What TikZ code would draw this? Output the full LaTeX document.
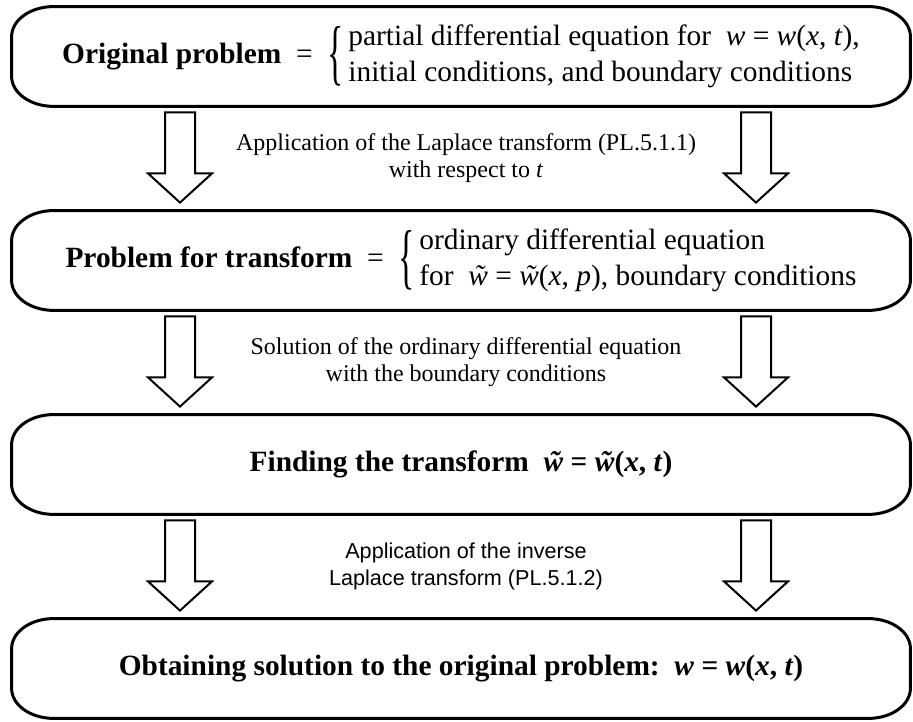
\documentclass[tikz,border=0pt]{standalone}
\usepackage{graphicx}
\usepackage{fontspec}
\setmainfont{Liberation Serif}
\newfontfamily\lblsans{Liberation Sans}
\usetikzlibrary{calc}

% w with a tilde on top (kept at the letter's own width)
\newcommand\tilw{\leavevmode\ooalign{\textit{w}\cr\hidewidth\kern0.12em\textit{\char"02DC}\hidewidth\cr}}
% tall brace in front of a two-line group
\newcommand\twolines[1]{$\vcenter{\hbox{\scalebox{1.15}[2.45]{\{}}}\,%
  \vcenter{\hbox{\begin{tabular}{@{}l@{}}#1\end{tabular}}}$}

\begin{document}
\begin{tikzpicture}[
    x=0.5pt, y=0.5pt,
    box/.style={minimum width=449pt, minimum height=49.5pt, inner sep=0pt,
                align=center, font=\fontsize{14.7}{18}\selectfont},
    lbl/.style={align=center, font=\fontsize{12}{13.5}\selectfont},
    blk/.style={draw, line width=1pt, fill=white, line join=miter},
    outl/.style={line width=1.5pt},
  ]

  \useasboundingbox (0,0) rectangle (913,721);

  \def\rx{21pt}
  \def\ry{15pt}

  % -- Boxes
  \node[box] (b1) at (461,664.5)
    {\textbf{Original problem}\enskip=\enskip\twolines{%
     partial differential equation for\enskip\textit{w} = \textit{w}(\textit{x}, \textit{t}),\\
     initial conditions, and boundary conditions}};
  \node[box] (b2) at (461,460.5)
    {\textbf{Problem for transform}\enskip=\enskip\twolines{%
     ordinary differential equation\\
     for\enskip\tilw{} = \tilw(\textit{x}, \textit{p}), boundary conditions}};
  \node[box] (b3) at (461,256.5)
    {\textbf{Finding the transform\enskip\tilw{} = \tilw(\textit{x}, \textit{t})}};
  \node[box] (b4) at (461,52.5)
    {\textbf{Obtaining solution to the original problem:\enskip\textit{w} = \textit{w}(\textit{x}, \textit{t})}};

  % -- Box outlines (oval corners)
  \foreach \n in {b1,b2,b3,b4}
    \draw[outl] ([xshift=\rx]\n.north west) -- ([xshift=-\rx]\n.north east)
      arc[start angle=90, end angle=0, x radius=\rx, y radius=\ry]
      -- ([yshift=\ry]\n.south east)
      arc[start angle=0, end angle=-90, x radius=\rx, y radius=\ry]
      -- ([xshift=\rx]\n.south west)
      arc[start angle=270, end angle=180, x radius=\rx, y radius=\ry]
      -- ([yshift=-\ry]\n.north west)
      arc[start angle=180, end angle=90, x radius=\rx, y radius=\ry] -- cycle;

  % -- Step labels
  \node[lbl] (t1) at ($(b1.south)!0.5!(b2.north)+(5,0)$)
    {Application of the Laplace transform (PL.5.1.1)\\with respect to \textit{t}};
  \node[lbl] (t2) at ($(b2.south)!0.5!(b3.north)+(5,0)$)
    {Solution of the ordinary differential equation\\with the boundary conditions};
  \node[lbl, font=\lblsans\fontsize{10.8}{13.5}\selectfont] (t3)
    at ($(b3.south)!0.5!(b4.north)+(5,0)$)
    {Application of the inverse\\Laplace transform (PL.5.1.2)};

  % -- Block arrows
  \coordinate (xl) at (180,0);
  \coordinate (xr) at (756,0);
  \foreach \a/\b in {b1/b2, b2/b3, b3/b4}
    \foreach \c in {xl, xr} {
      \coordinate (s) at (\a.south -| \c);
      \coordinate (e) at (\b.north -| \c);
      \draw[blk] ($(s)+(-15,-6)$) -- ($(s)+(-15,-67)$) -- ($(s)+(-32,-67)$)
        -- ($(e)+(0,8)$) -- ($(s)+(32,-67)$) -- ($(s)+(15,-67)$)
        -- ($(s)+(15,-6)$) -- cycle;
    }

\end{tikzpicture}
\end{document}
